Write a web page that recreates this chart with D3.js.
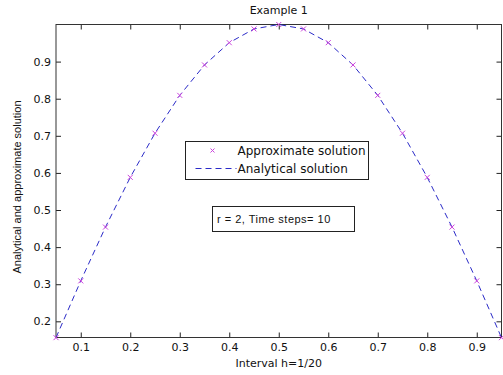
<!DOCTYPE html>
<html>
<head>
<meta charset="utf-8">
<script src="https://cdn.jsdelivr.net/npm/d3@7"></script>
<style>
  body { margin: 0; background: #fff; }
  svg { display: block; font-family: "DejaVu Sans", sans-serif; }
  .tick text { font-size: 11px; fill: #111; }
</style>
</head>
<body>
<div id="chart"></div>
<script>
// grid points, interval h = 1/20
const xPoints = [0.05, 0.10, 0.15, 0.20, 0.25, 0.30, 0.35, 0.40, 0.45, 0.50,
                 0.55, 0.60, 0.65, 0.70, 0.75, 0.80, 0.85, 0.90, 0.95];
// approximate solution (x markers)
const approxValues = [0.156, 0.309, 0.454, 0.588, 0.707, 0.809, 0.891, 0.951, 0.988, 1.000,
                      0.988, 0.951, 0.891, 0.809, 0.707, 0.588, 0.454, 0.309, 0.156];
// analytical solution (dashed line)
const exactValues = [0.156, 0.309, 0.454, 0.588, 0.707, 0.809, 0.891, 0.951, 0.988, 1.000,
                     0.988, 0.951, 0.891, 0.809, 0.707, 0.588, 0.454, 0.309, 0.156];
const xTicks = [0.1, 0.2, 0.3, 0.4, 0.5, 0.6, 0.7, 0.8, 0.9];
const yTicks = [0.2, 0.3, 0.4, 0.5, 0.6, 0.7, 0.8, 0.9];

const width = 503, height = 375;
const margin = { top: 24.5, right: 1.5, bottom: 37.5, left: 56 };
const w = width - margin.left - margin.right;
const h = height - margin.top - margin.bottom;

const svg = d3.select("#chart").append("svg")
    .attr("width", width)
    .attr("height", height);

const g = svg.append("g")
    .attr("transform", `translate(${margin.left}, ${margin.top})`);

const xScale = d3.scaleLinear().domain([0.05, 0.95]).range([0, w]);
const yScale = d3.scaleLinear().domain([0.1564, 1.0]).range([h, 0]);

// axes with inward ticks on all four sides
const xAxis = d3.axisBottom(xScale).tickValues(xTicks).tickSizeInner(-5).tickSizeOuter(0)
    .tickPadding(5.5).tickFormat(d3.format(".1f"));
const yAxis = d3.axisLeft(yScale).tickValues(yTicks).tickSizeInner(-5).tickSizeOuter(0)
    .tickPadding(5).tickFormat(d3.format(".1f"));

g.append("g").attr("class", "x-axis").attr("transform", `translate(0, ${h})`).call(xAxis);
g.append("g").attr("class", "y-axis").call(yAxis);
g.append("g").attr("transform", "translate(0, 0)")
    .call(d3.axisTop(xScale).tickValues(xTicks).tickSizeInner(-5).tickSizeOuter(0).tickFormat(""));
g.append("g").attr("transform", `translate(${w}, 0)`)
    .call(d3.axisRight(yScale).tickValues(yTicks).tickSizeInner(-5).tickSizeOuter(0).tickFormat(""));

g.selectAll(".domain").remove();
g.selectAll(".tick line").attr("stroke", "#222");
g.selectAll(".tick text").attr("font-family", "DejaVu Sans, sans-serif");

g.append("rect")
    .attr("width", w).attr("height", h)
    .attr("fill", "none").attr("stroke", "#333").attr("stroke-width", 1);

// analytical solution
const line = d3.line().x((d, i) => xScale(xPoints[i])).y(d => yScale(d));
g.append("path")
    .datum(exactValues)
    .attr("d", line)
    .attr("fill", "none")
    .attr("stroke", "#2b2bc8")
    .attr("stroke-width", 1)
    .attr("stroke-dasharray", "6,4");

// approximate solution markers
const s = 2.5;
g.selectAll("path.mark")
    .data(approxValues)
    .enter().append("path")
    .attr("class", "mark")
    .attr("d", (d, i) => {
        const cx = xScale(xPoints[i]), cy = yScale(d);
        return `M${cx - s},${cy - s}L${cx + s},${cy + s}M${cx - s},${cy + s}L${cx + s},${cy - s}`;
    })
    .attr("stroke", "#cc44dd")
    .attr("stroke-width", 1);

// title and axis labels
svg.append("text")
    .attr("x", margin.left + w / 2).attr("y", 14)
    .attr("text-anchor", "middle").attr("font-size", 11).attr("fill", "#111")
    .text("Example 1");

svg.append("text")
    .attr("x", margin.left + w / 2).attr("y", 367)
    .attr("text-anchor", "middle").attr("font-size", 11).attr("fill", "#111")
    .text("Interval h=1/20");

svg.append("text")
    .attr("transform", "translate(21, 187) rotate(-90)")
    .attr("text-anchor", "middle").attr("font-size", 11).attr("fill", "#111")
    .attr("font-family", "Liberation Sans, Arial, sans-serif")
    .text("Analytical and approximate solution");

// legend
const legend = svg.append("g").attr("transform", "translate(185.5, 141.5)");
legend.append("rect")
    .attr("width", 183).attr("height", 38)
    .attr("fill", "#fff").attr("stroke", "#222");
const lx = 27, ly = 9;
legend.append("path")
    .attr("d", `M${lx - 2},${ly - 2}L${lx + 2},${ly + 2}M${lx - 2},${ly + 2}L${lx + 2},${ly - 2}`)
    .attr("stroke", "#cc44dd");
legend.append("text")
    .attr("x", 52).attr("y", 13.5).attr("font-size", 12).attr("fill", "#111")
    .text("Approximate solution");
legend.append("line")
    .attr("x1", 10).attr("x2", 51).attr("y1", 27).attr("y2", 27)
    .attr("stroke", "#2b2bc8").attr("stroke-dasharray", "6,4");
legend.append("text")
    .attr("x", 52).attr("y", 31.5).attr("font-size", 12).attr("fill", "#111")
    .text("Analytical solution");

// annotation box
const note = svg.append("g").attr("transform", "translate(212.5, 206.5)");
note.append("rect")
    .attr("width", 142).attr("height", 25)
    .attr("fill", "#fff").attr("stroke", "#222");
note.append("text")
    .attr("x", 4.5).attr("y", 16.5).attr("font-size", 11).attr("fill", "#111")
    .attr("font-family", "Liberation Sans, Arial, sans-serif")
    .attr("letter-spacing", "0.5px")
    .text("r = 2, Time steps= 10");
</script>
</body>
</html>
